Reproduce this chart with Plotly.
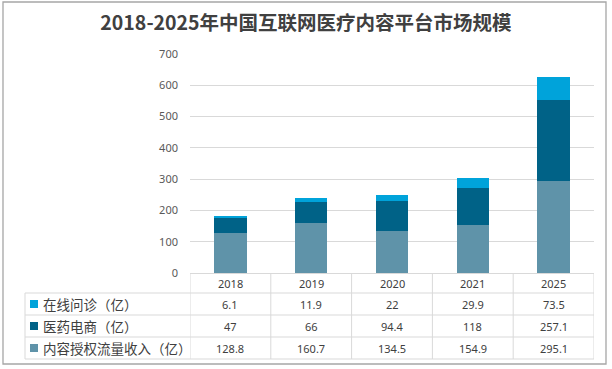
import plotly.graph_objects as go

years = ["2018", "2019", "2020", "2021", "2025"]
online = [6.1, 11.9, 22, 29.9, 73.5]
pharma = [47, 66, 94.4, 118, 257.1]
content = [128.8, 160.7, 134.5, 154.9, 295.1]
series_names = ["在线问诊（亿）", "医药电商（亿）", "内容授权流量收入（亿）"]
colors = ["#00A3DA", "#006287", "#5F93A9"]
title_text = "2018-2025年中国互联网医疗内容平台市场规模"

W, H = 612, 369
L, R, T, B = 190, 18, 54, 96
PH = H - T - B
PW = W - L - R


def py(y):
    return (H - B - y) / PH


def px(x):
    return (x - L) / PW


fig = go.Figure()
for name, vals, c in [(series_names[2], content, colors[2]),
                      (series_names[1], pharma, colors[1]),
                      (series_names[0], online, colors[0])]:
    fig.add_trace(go.Bar(x=list(range(len(years))), y=vals, name=name, marker_color=c,
                         marker_line_width=0, showlegend=False, hoverinfo="skip"))

shapes = []
line_c = "#D9D9D9"
# outer border
shapes.append(dict(type="rect", xref="paper", yref="paper", x0=px(3), x1=px(606), y0=py(2), y1=py(364),
                   line=dict(color="#A6A6A6", width=1.3), layer="below"))
# table horizontal lines
row_y = [293, 315, 337, 359]
for y in row_y:
    shapes.append(dict(type="line", xref="paper", yref="paper", x0=px(25), x1=1, y0=py(y), y1=py(y),
                       line=dict(color=line_c, width=1)))
# left vertical line of legend column
shapes.append(dict(type="line", xref="paper", yref="paper", x0=px(25), x1=px(25), y0=py(293), y1=py(359),
                   line=dict(color=line_c, width=1)))
# column boundaries
for i in range(len(years) + 1):
    shapes.append(dict(type="line", xref="x", yref="paper", x0=i - 0.5, x1=i - 0.5, y0=0, y1=py(359),
                       line=dict(color=line_c, width=1)))

annotations = []
font_tbl = dict(family="Noto Sans, Open Sans, sans-serif", size=11, color="#404040")
for i, yr in enumerate(years):
    annotations.append(dict(x=i, y=py(283), xref="x", yref="paper", text=yr, showarrow=False,
                            font=font_tbl, xanchor="center", yanchor="middle"))
rows = [online, pharma, content]
row_centers = [304, 326, 348]
for r, (vals, yc) in enumerate(zip(rows, row_centers)):
    for i, v in enumerate(vals):
        annotations.append(dict(x=i, y=py(yc), xref="x", yref="paper", text=str(v), showarrow=False,
                                font=font_tbl, xanchor="center", yanchor="middle"))
    shapes.append(dict(type="rect", xref="paper", yref="paper", x0=px(30), x1=px(38),
                       y0=py(yc + 4), y1=py(yc - 4), fillcolor=colors[r], line=dict(width=0)))
    annotations.append(dict(x=px(41), y=py(yc), xref="paper", yref="paper", text=series_names[r],
                            showarrow=False, xanchor="left", yanchor="middle",
                            font=dict(family="Noto Sans CJK SC", size=13.5, color="#404040")))

fig.update_layout(
    width=W, height=H,
    margin=dict(l=L, r=R, t=T, b=B, autoexpand=False),
    barmode="stack", bargap=0.6,
    plot_bgcolor="white", paper_bgcolor="white",
    title=dict(text="<b>" + title_text + "</b>", x=px(306), xanchor="center", xref="paper",
               y=1 - 23 / H, yanchor="middle", yref="container",
               font=dict(family="Noto Sans CJK SC", size=19.5, color="#404040")),
    xaxis=dict(range=[-0.5, len(years) - 0.5], showticklabels=False, showgrid=False,
               showline=True, linecolor=line_c, linewidth=1, zeroline=False, fixedrange=True),
    yaxis=dict(range=[0, 700], dtick=100, showgrid=True, gridcolor=line_c, gridwidth=1,
               zeroline=False, showline=False, ticks="", ticklabelstandoff=11,
               tickfont=dict(family="Noto Sans, sans-serif", size=11, color="#595959")),
    shapes=shapes, annotations=annotations,
)

fig.write_html("out.html", config={"displayModeBar": False},
               post_script="document.body.style.margin='0';document.body.style.overflow='hidden';")
